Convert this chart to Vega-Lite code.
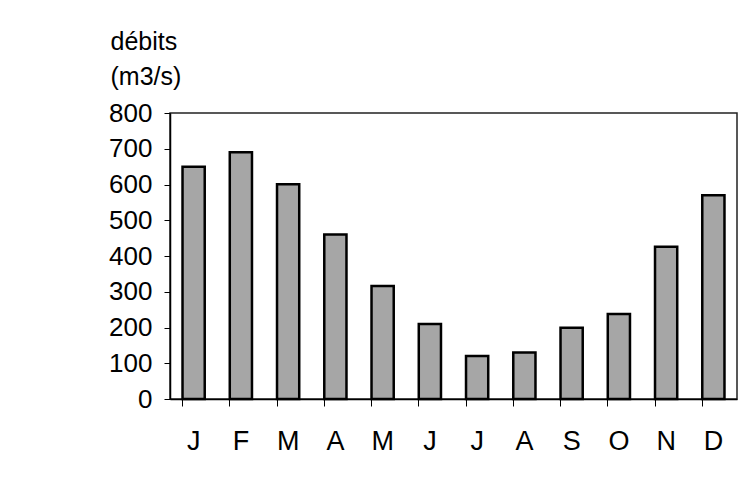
{
  "$schema": "https://vega.github.io/schema/vega-lite/v6.json",
  "autosize": "none",
  "width": 567,
  "height": 286,
  "padding": {"left": 170, "top": 113, "right": 7, "bottom": 83},
  "background": "white",
  "data": {
    "values": [
      {"i": 1, "mois": "J", "debit": 650},
      {"i": 2, "mois": "F", "debit": 690},
      {"i": 3, "mois": "M", "debit": 601},
      {"i": 4, "mois": "A", "debit": 460},
      {"i": 5, "mois": "M", "debit": 316},
      {"i": 6, "mois": "J", "debit": 210},
      {"i": 7, "mois": "J", "debit": 120},
      {"i": 8, "mois": "A", "debit": 130},
      {"i": 9, "mois": "S", "debit": 199},
      {"i": 10, "mois": "O", "debit": 238},
      {"i": 11, "mois": "N", "debit": 426},
      {"i": 12, "mois": "D", "debit": 570}
    ]
  },
  "mark": {"type": "bar", "fill": "#a6a6a6", "stroke": "#000000", "strokeWidth": 2.5},
  "encoding": {
    "x": {
      "field": "i",
      "type": "ordinal",
      "scale": {"paddingInner": 0.53, "paddingOuter": 0.265},
      "axis": {
        "title": null,
        "labelExpr": "['J','F','M','A','M','J','J','A','S','O','N','D'][datum.value - 1]",
        "labelAngle": 0,
        "labelFont": "Liberation Sans",
        "labelFontSize": 27,
        "labelColor": "#000000",
        "labelPadding": 22,
        "bandPosition": 0,
        "tickSize": 7,
        "tickColor": "#000000",
        "tickWidth": 1,
        "domainColor": "#000000",
        "domainWidth": 1.5
      }
    },
    "y": {
      "field": "debit",
      "type": "quantitative",
      "scale": {"domain": [0, 800]},
      "axis": {
        "title": ["débits", "(m3/s)"],
        "titleAngle": 0,
        "titleAlign": "left",
        "titleBaseline": "alphabetic",
        "titleX": -60,
        "titleY": -64,
        "titleLineHeight": 35,
        "titleFont": "Liberation Sans",
        "titleFontSize": 25,
        "titleFontWeight": "normal",
        "titleColor": "#000000",
        "values": [0, 100, 200, 300, 400, 500, 600, 700, 800],
        "grid": false,
        "labelFont": "Liberation Sans",
        "labelFontSize": 26,
        "labelColor": "#000000",
        "labelPadding": 12,
        "tickSize": 6,
        "tickColor": "#000000",
        "domainColor": "#000000",
        "domainWidth": 1.5
      }
    }
  },
  "config": {
    "view": {"stroke": "#222222", "strokeWidth": 1.5}
  }
}
